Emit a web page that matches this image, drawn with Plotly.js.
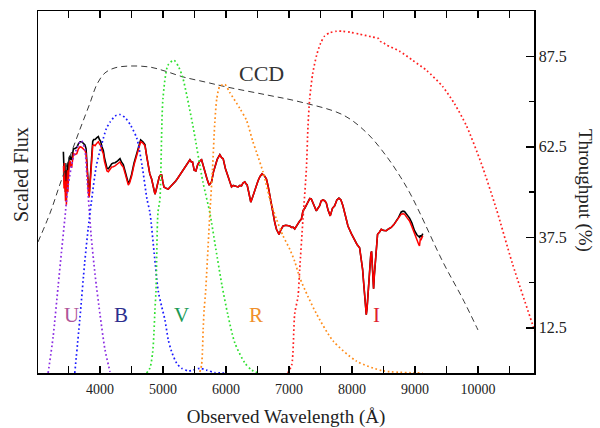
<!DOCTYPE html>
<html>
<head>
<meta charset="utf-8">
<script src="https://cdn.plot.ly/plotly-3.0.1.min.js"></script>
<style>html,body{margin:0;padding:0;background:#fff;}#chart{width:600px;height:428px;}</style>
</head>
<body>
<div id="chart"></div>
<script>
// ---- Spectrum (red, scaled flux, same 0-100 scale as right axis) ----
const redWl = [3420,3428,3433,3440,3446,3452,3460,3466,3474,3482,3490,3498,3510,3524,3537,3551,3565,3577,3600,3631,3656,3683,3710,3735,3760,3778,3790,3799,3808,3815,3822,3830,3842,3853,3868,3884,3900,3921,3950,3973,3990,4011,4030,4052,4070,4090,4110,4132,4160,4185,4210,4238,4280,4317,4340,4369,4400,4430,4449,4470,4502,4540,4582,4620,4645,4680,4713,4740,4766,4790,4819,4845,4872,4890,4908,4925,4940,4960,4978,4995,5014,5050,5083,5120,5162,5200,5241,5290,5347,5390,5427,5450,5469,5495,5522,5550,5585,5612,5640,5664,5700,5732,5770,5800,5823,5860,5902,5930,5955,5990,6034,6060,6088,6115,6140,6165,6192,6220,6246,6270,6298,6320,6335,6360,6393,6420,6457,6480,6509,6540,6572,6610,6642,6670,6695,6720,6747,6775,6801,6825,6842,6870,6905,6950,6985,7012,7040,7064,7091,7118,7143,7170,7197,7222,7250,7276,7302,7330,7354,7390,7434,7460,7487,7510,7539,7565,7592,7620,7655,7690,7725,7760,7793,7825,7856,7895,7936,7990,8042,8080,8121,8150,8169,8185,8200,8215,8227,8240,8248,8265,8280,8300,8311,8320,8327,8343,8355,8367,8385,8406,8435,8465,8500,8544,8580,8623,8665,8703,8740,8782,8810,8834,8870,8914,8950,8993,9030,9060,9072,9085,9099,9124];
const redFlux = [57.2,51,58,49,55,47.5,53,46.5,52,56,50,55.6,58,58.6,57,56.9,59,60.6,60.3,60.6,61.9,62.5,62.3,61.9,61.5,60.6,58,57.2,53,50,48.5,48.9,52,55.6,60,62.8,63,62.8,63.5,63.9,63.3,62.8,61.5,60.6,58.5,56.9,55.8,55.6,56.4,56.9,57,57.2,57.8,58.3,57.5,56.9,55,52.5,51.9,52.5,54.4,57.5,60.3,63,63.9,63.5,62.8,60,56.9,55,53.6,51.5,49.4,50.5,51.7,53.5,54.2,54.7,54.7,53,51.4,51,50.8,51.5,52.2,53,54,55.3,56.7,58,58.9,58.3,58.3,56,55.8,57.5,58.6,58.9,57,56.1,53.5,51.9,52.8,55.5,56.7,59,60.3,59.5,59.2,56.5,54.2,52.5,51.4,51.8,51.7,51.6,51.4,51.8,51.7,52.5,52.8,52.2,52,50,47.2,48.5,50.3,52,53.1,54.3,55,54.5,53.6,51.5,48.9,46,43.3,41.5,39.7,38.7,38.3,39.5,40.6,40.8,40.8,40.6,40.2,40.3,39.8,40.6,41.1,42,42.5,44.8,45.5,46.5,47.6,48.2,48.1,46.5,44.8,45.5,46.2,47.5,47.8,47.6,47,45,43.4,45.5,46.2,47.8,48.3,47.8,46.2,43.5,40.6,38.5,36.5,35.5,34.6,31.5,28.6,25,21.7,18,16.1,18,20.3,25,30,33,33.6,31,30,23.3,27,30,35,38.3,38.9,39.7,39.4,39.3,39.8,40.2,41,42,43,43.9,44,43.9,43,42,40.5,38.3,37,35.5,35.1,37,36.9,37.9];

// ---- Spectrum (black) where it differs from the red one ----
const blackBlueWl = [3418,3425,3430,3436,3442,3450,3458,3466,3474,3482,3490,3498,3510,3524,3537,3551,3565,3577,3600,3631,3656,3683,3710,3735,3760,3778,3790,3799,3808,3815,3822,3830,3842,3853,3868,3884,3900,3921,3950,3973,3990,4011,4030,4052,4070,4090,4110,4132,4160,4185,4210,4238,4280,4317,4340,4369,4400,4430,4449,4470,4502,4540,4582,4620,4645,4680,4713];
const blackBlueFlux = [61.1,55,59,52,58,50,56,49,55,58,54,58,59.5,60,59,59,60.5,61.9,62,62.3,63.3,63.9,63.9,63.3,63,62,59,58,54,51,49.5,50,53,57,61.5,64,64.5,64.5,65,65.3,64.5,63.9,62.5,61.5,59.5,57.5,56.6,56.4,57.2,57.8,58,58.1,58.6,59.2,58.3,57.6,55.6,53,52.4,53,54.9,58,60.7,63.4,64.4,63.9,63.1];
const blackRedWl = [8782,8810,8834,8870,8914,8950,8993,9030,9060,9072,9085,9099,9124];
const blackRedFlux = [44.5,44.7,44.6,43.8,42.8,41.5,39.3,38.2,37.5,37.5,38,37.5,38.5];

// ---- CCD response (%) ----
const ccdWl = [3015,3207,3365,3524,3683,3841,3952,4079,4238,4476,4794,5032,5317,5666,6015,6650,7174,7856,8237,8555,8761,8920,9078,9443,9761,10000];
const ccdT = [36.2,44.2,52.2,59.9,67.4,74.6,79.8,82.9,84.3,84.8,84.5,83.4,81.8,80.4,79.0,76.8,74.9,71.3,66.3,59.7,54.4,49.7,44.2,30.7,20.4,11.9];

// ---- Filter throughputs (%) ----
const uWl = [3176,3255,3334,3387,3440,3493,3572,3651,3704,3757,3794,3857,3921,4000,4079,4159];
const uT  = [0,10,23.9,33.3,42.5,51.7,59.2,62.8,64.2,61.9,53.6,38.3,27.2,16.1,6.4,0.3];
const bWl = [3599,3678,3757,3810,3862,3941,4021,4100,4159,4240,4317,4400,4490,4586,4670,4745,4793,4860,4924,4978,5030,5083,5136,5216,5295,5400,5479,5585,5691,5823,6008];
const bT  = [0,14.7,30.6,39.7,47.2,57.2,62.8,67.5,69.3,71,71.4,70.5,68.3,64.7,57,48.1,44.2,33,22.6,18.4,14.7,9.2,5.9,2.7,1.3,0.6,0.8,1.3,0.8,0.1,0];
const vWl = [4740,4793,4835,4856,4872,4888,4919,4951,4999,5078,5173,5250,5316,5474,5633,5744,5839,5934,6029,6140,6298,6409,6504];
const vT  = [0,1.4,5.6,11.1,17.5,22.5,44.2,48.1,75.8,85,86.4,84.5,81.4,68.3,52.8,44.2,34.2,24.4,16.1,8.3,2.8,0.8,0];
const rWl = [5585,5612,5627,5637,5653,5675,5744,5786,5823,5854,5902,5981,6060,6219,6325,6425,6484,6588,6695,6801,6905,7012,7091,7170,7302,7435,7698,8069,8490,9124];
const rT  = [0.3,2.2,6.4,11.9,17.5,22.2,44.2,56.4,69.4,75.8,79.2,79.7,77.5,73.1,69.8,64,61,55.5,48.1,42.5,37.9,34.2,30.8,26.4,21.1,16.4,8.9,3.3,0.6,0];
const iWl = [6980,7043,7091,7143,7170,7222,7276,7302,7329,7377,7439,7502,7566,7650,7756,7852,7980,8121,8300,8420,8450,8501,8549,8755,8961,9183,9437,9627,9817,10055,10292,10546,10863,10975];
const iT  = [0,2.2,16.4,21.1,28.6,42.5,56.4,68.3,75.8,82.8,87.8,91.1,93.1,94,94.4,94.4,94.1,93.6,92.9,92.4,91.6,91.2,90.6,88.9,86.4,83.6,79.2,74.4,68.3,57.8,45.3,30.3,13.6,7.8];

// ---- Labels and ticks ----
const filterNames = ['U','B','V','R','I'];
const filterLabelColors = ['#b0559a','#2e2e8e','#1b9a55','#f0902a','#e0202e'];
const filterLineColors = ['#8a2be2','#1a1aff','#2ee02e','#ff8c1a','#ff1f1f'];
const filterLabelX = [3539,4333,5301,6475,8396];
const xTickVals = [3500,4000,4500,5000,5500,6000,6500,7000,7500,8000,8500,9000,9500,10000,10500];
const xTickText = ['','4000','','5000','','6000','','7000','','8000','','9000','','10000',''];
const yTickVals = [12.5,37.5,62.5,87.5];
const yTickText = ['12.5','37.5','62.5','87.5'];
const yMinorVals = [25,50,75];

const FONT = 'Liberation Serif, Times New Roman, serif';
const filterWl = [uWl,bWl,vWl,rWl,iWl];
const filterT = [uT,bT,vT,rT,iT];

const traces = [];
traces.push({x: ccdWl, y: ccdT, yaxis:'y2', mode:'lines', line:{color:'#3a3a3a', width:1, dash:'6px,4px', shape:'spline'}, hoverinfo:'skip'});
filterNames.forEach((n,i)=>{
  traces.push({x: filterWl[i], y: filterT[i], yaxis:'y2', mode:'lines', name:n,
    line:{color: filterLineColors[i], width:1.7, dash:'1.7px,2.6px', shape:'spline', smoothing:0.7}});
});
const blackWl = blackBlueWl.concat(redWl.filter(w => w > 4713 && w < 8782), blackRedWl);
const blackFlux = blackBlueFlux.concat(redFlux.filter((f,k) => redWl[k] > 4713 && redWl[k] < 8782), blackRedFlux);
traces.push({x: blackWl, y: blackFlux, mode:'lines', line:{color:'#000', width:1.6}});
traces.push({x: redWl, y: redFlux, mode:'lines', line:{color:'#ff0000', width:1.5}});

const annotations = filterNames.map((n,i)=>({
  x: filterLabelX[i], y: 16, xref:'x', yref:'y', text:n, showarrow:false,
  font:{family:FONT, size:21, color:filterLabelColors[i]}
}));
annotations.push({x:6571, y:82.7, xref:'x', yref:'y', text:'CCD', showarrow:false, font:{family:FONT, size:22, color:'#333'}});
annotations.push({x:-0.034, y:0.547, xref:'paper', yref:'paper', text:'Scaled Flux', textangle:-90, showarrow:false, xanchor:'center', yanchor:'middle', font:{family:FONT, size:20, color:'#222'}});
annotations.push({x:1.1028, y:0.503, xref:'paper', yref:'paper', text:'Throughput (%)', textangle:90, showarrow:false, xanchor:'center', yanchor:'middle', font:{family:FONT, size:19, color:'#222'}});

const layout = {
  width:600, height:428,
  margin:{l:38, r:66, t:11, b:55},
  paper_bgcolor:'#fff', plot_bgcolor:'#fff',
  showlegend:false,
  font:{family:FONT, color:'#222'},
  xaxis:{range:[3015,10890], tickmode:'array', tickvals:xTickVals, ticktext:xTickText,
    ticks:'inside', ticklen:7, tickwidth:1.5, tickcolor:'#000', ticklabelstandoff:3,
    showline:true, linecolor:'#000', linewidth:1.5, mirror:'ticks',
    showgrid:false, zeroline:false, tickfont:{family:FONT, size:14, color:'#222'},
    title:{text:'Observed Wavelength (Å)', font:{family:FONT, size:19, color:'#222'}, standoff:18}},
  yaxis:{range:[0,100], showticklabels:false, ticks:'', showline:true, linecolor:'#000', linewidth:1.5,
    showgrid:false, zeroline:false},
  yaxis2:{range:[0,100], overlaying:'y', side:'right', tickmode:'array', tickvals:yTickVals, ticktext:yTickText,
    ticks:'inside', ticklen:8, tickwidth:1.5, tickcolor:'#000',
    minor:{tickmode:'array', tickvals:yMinorVals, ticks:'inside', ticklen:5, tickwidth:1.5, tickcolor:'#000', showgrid:false},
    showline:true, linecolor:'#000', linewidth:1.5, showgrid:false, zeroline:false,
    tickfont:{family:FONT, size:16, color:'#222'}},
  annotations: annotations
};
Plotly.newPlot('chart', traces, layout, {displayModeBar:false, staticPlot:true});
</script>
</body>
</html>
